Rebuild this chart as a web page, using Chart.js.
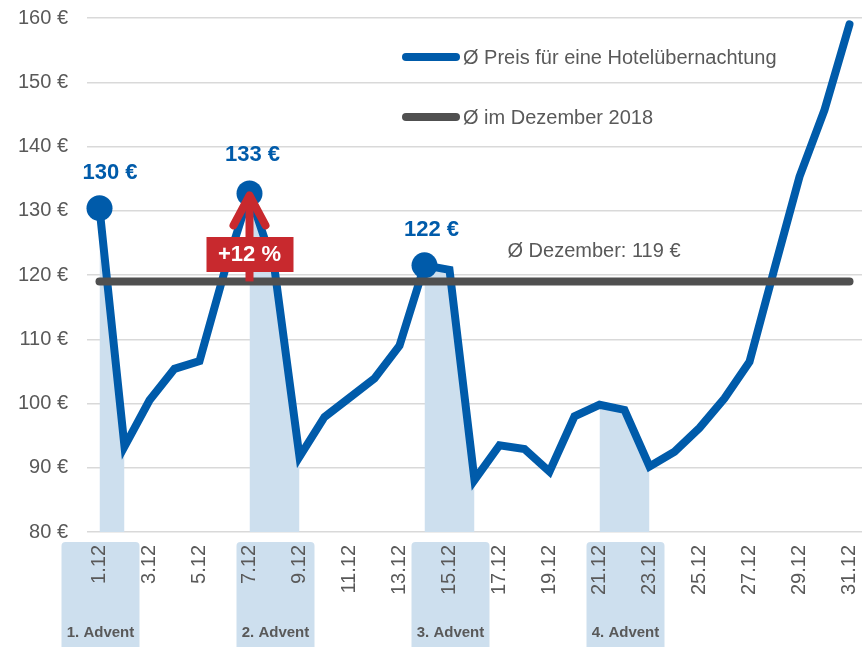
<!DOCTYPE html>
<html>
<head>
<meta charset="utf-8">
<script src="https://cdn.jsdelivr.net/npm/chart.js@4.4.1/dist/chart.umd.min.js"></script>
<style>
  html, body { margin: 0; padding: 0; background: #ffffff; }
  #wrap { width: 868px; height: 647px; position: relative; }
</style>
</head>
<body>
<div id="wrap"><canvas id="c" width="868" height="647"></canvas></div>
<script>
// ---- data ----
const dates = ['1.12','2.12','3.12','4.12','5.12','6.12','7.12','8.12','9.12','10.12',
  '11.12','12.12','13.12','14.12','15.12','16.12','17.12','18.12','19.12','20.12',
  '21.12','22.12','23.12','24.12','25.12','26.12','27.12','28.12','29.12','30.12','31.12'];
const hotelPrice = [130.4, 93.3, 100.5, 105.4, 106.6, 120.5, 132.7, 121, 91.7, 97.9,
  100.9, 103.9, 109, 121.5, 120.8, 88.1, 93.5, 92.9, 89.4, 98,
  99.8, 99, 90.2, 92.5, 96.2, 100.8, 106.5, 121, 135.3, 145.7, 159];
const avgDecember = 119;
const adventWeekends = [[0,1],[6,8],[13,15],[20,22]];   // index ranges (Fri–Sun)
const adventLabels = ['1. Advent','2. Advent','3. Advent','4. Advent'];
const adventLabelIdx = [0, 7, 14, 21];
const highlightIdx = [0, 6, 13];
const highlightLabels = ['130 €','133 €','122 €'];
const legendLabels = ['Ø Preis für eine Hotelübernachtung','Ø im Dezember 2018'];
const avgText = 'Ø Dezember: 119 €';
const increaseText = '+12 %';
const yTicks = { min: 80, max: 160, step: 10 };

// derived
const avgSeries = dates.map(() => avgDecember);
const shadeSeries = hotelPrice.map((v, i) =>
  adventWeekends.some(([a, b]) => i >= a && i <= b) ? v : null);
const pointRadii = hotelPrice.map((v, i) => highlightIdx.includes(i) ? 13 : 0);

const BLUE = '#005BAA', GRAY = '#505050', SHADE = '#CDDFEE', RED = '#C8292E', TXT = '#595959';
const FONT = "'Liberation Sans', Arial, sans-serif";

const overlay = {
  id: 'overlay',
  beforeDraw(chart) {
    const ctx = chart.ctx, x = chart.scales.x;
    ctx.save();
    ctx.fillStyle = SHADE;
    adventLabelIdx.forEach(i => {
      const cx = x.getPixelForValue(i) + 1, w = 78, top = 542, bottom = 647, r = 4;
      ctx.beginPath();
      ctx.moveTo(cx - w/2, bottom);
      ctx.lineTo(cx - w/2, top + r);
      ctx.quadraticCurveTo(cx - w/2, top, cx - w/2 + r, top);
      ctx.lineTo(cx + w/2 - r, top);
      ctx.quadraticCurveTo(cx + w/2, top, cx + w/2, top + r);
      ctx.lineTo(cx + w/2, bottom);
      ctx.closePath();
      ctx.fill();
    });
    ctx.restore();
  },
  afterDraw(chart) {
    const ctx = chart.ctx, x = chart.scales.x, y = chart.scales.y;
    ctx.save();
    // Advent labels
    ctx.fillStyle = TXT;
    ctx.font = 'bold 15px ' + FONT;
    ctx.textAlign = 'center';
    ctx.textBaseline = 'middle';
    adventLabelIdx.forEach((i, k) => {
      ctx.fillText(adventLabels[k], x.getPixelForValue(i) + 1, 633);
    });
    // value labels
    const offs = [[10.5, -35], [3, -38], [7, -35]];
    ctx.fillStyle = BLUE;
    ctx.font = 'bold 22px ' + FONT;
    highlightIdx.forEach((i, k) => {
      ctx.fillText(highlightLabels[k], x.getPixelForValue(i) + offs[k][0],
        y.getPixelForValue(hotelPrice[i]) + offs[k][1]);
    });
    // average text
    ctx.fillStyle = TXT;
    ctx.font = '20px ' + FONT;
    ctx.textAlign = 'left';
    ctx.fillText(avgText, x.getPixelForValue(16) + 8, y.getPixelForValue(avgDecember) - 30);
    // legend
    const legColors = [BLUE, GRAY], legY = [57, 117];
    legendLabels.forEach((t, k) => {
      ctx.strokeStyle = legColors[k];
      ctx.lineWidth = 8;
      ctx.lineCap = 'round';
      ctx.beginPath();
      ctx.moveTo(406, legY[k]);
      ctx.lineTo(456, legY[k]);
      ctx.stroke();
      ctx.fillStyle = TXT;
      ctx.fillText(t, 463, legY[k] + 1);
    });
    // red arrow (+12 %)
    const ax = x.getPixelForValue(6);
    const yTop = y.getPixelForValue(hotelPrice[6]) + 2;
    const yBot = y.getPixelForValue(avgDecember);
    ctx.strokeStyle = RED;
    ctx.lineWidth = 8;
    ctx.lineCap = 'butt';
    ctx.beginPath();
    ctx.moveTo(ax, yBot);
    ctx.lineTo(ax, yTop + 4);
    ctx.stroke();
    ctx.lineCap = 'round';
    ctx.lineJoin = 'round';
    ctx.beginPath();
    ctx.moveTo(ax - 16, yTop + 30);
    ctx.lineTo(ax, yTop);
    ctx.lineTo(ax + 16, yTop + 30);
    ctx.stroke();
    ctx.fillStyle = RED;
    ctx.fillRect(ax - 43, 237, 87, 35);
    ctx.fillStyle = '#ffffff';
    ctx.font = 'bold 22px ' + FONT;
    ctx.textAlign = 'center';
    ctx.fillText(increaseText, ax, 255);
    ctx.restore();
  }
};

new Chart(document.getElementById('c'), {
  type: 'line',
  data: {
    labels: dates,
    datasets: [
      {
        label: legendLabels[1], data: avgSeries, borderColor: GRAY, borderWidth: 8,
        borderCapStyle: 'round', pointRadius: 0, fill: false, order: 0
      },
      {
        label: legendLabels[0], data: hotelPrice, borderColor: BLUE, borderWidth: 8,
        borderCapStyle: 'round', pointRadius: pointRadii, pointHoverRadius: pointRadii,
        pointBackgroundColor: BLUE, pointBorderWidth: 0, fill: false, order: 1
      },
      {
        label: 'shade', data: shadeSeries, borderWidth: 0, borderColor: 'rgba(0,0,0,0)',
        backgroundColor: SHADE, pointRadius: 0, fill: 'start', spanGaps: false, order: 2
      }
    ]
  },
  options: {
    responsive: false,
    devicePixelRatio: 1,
    animation: false,
    layout: { autoPadding: false, padding: { top: 18, right: 6, left: 0, bottom: 0 } },
    plugins: { legend: { display: false }, tooltip: { enabled: false } },
    scales: {
      x: {
        offset: true,
        grid: { display: false, drawTicks: false },
        border: { display: false },
        afterFit(s) { s.height = 115; s.paddingLeft = 0; s.paddingRight = 0; },
        ticks: {
          autoSkip: false, minRotation: 90, maxRotation: 90, padding: 13,
          color: TXT, font: { family: FONT, size: 20 },
          callback(v, i) { return i % 2 === 0 ? dates[i] : ''; }
        }
      },
      y: {
        min: yTicks.min, max: yTicks.max,
        grid: { color: '#D9D9D9', lineWidth: 1.5, drawTicks: false },
        border: { display: false },
        afterFit(s) { s.width = 87; s.paddingTop = 0; s.paddingBottom = 0; },
        ticks: {
          stepSize: yTicks.step, padding: 19, color: TXT,
          font: { family: FONT, size: 20 },
          callback(v) { return v + ' €'; }
        }
      }
    }
  },
  plugins: [overlay]
});
</script>
</body>
</html>
